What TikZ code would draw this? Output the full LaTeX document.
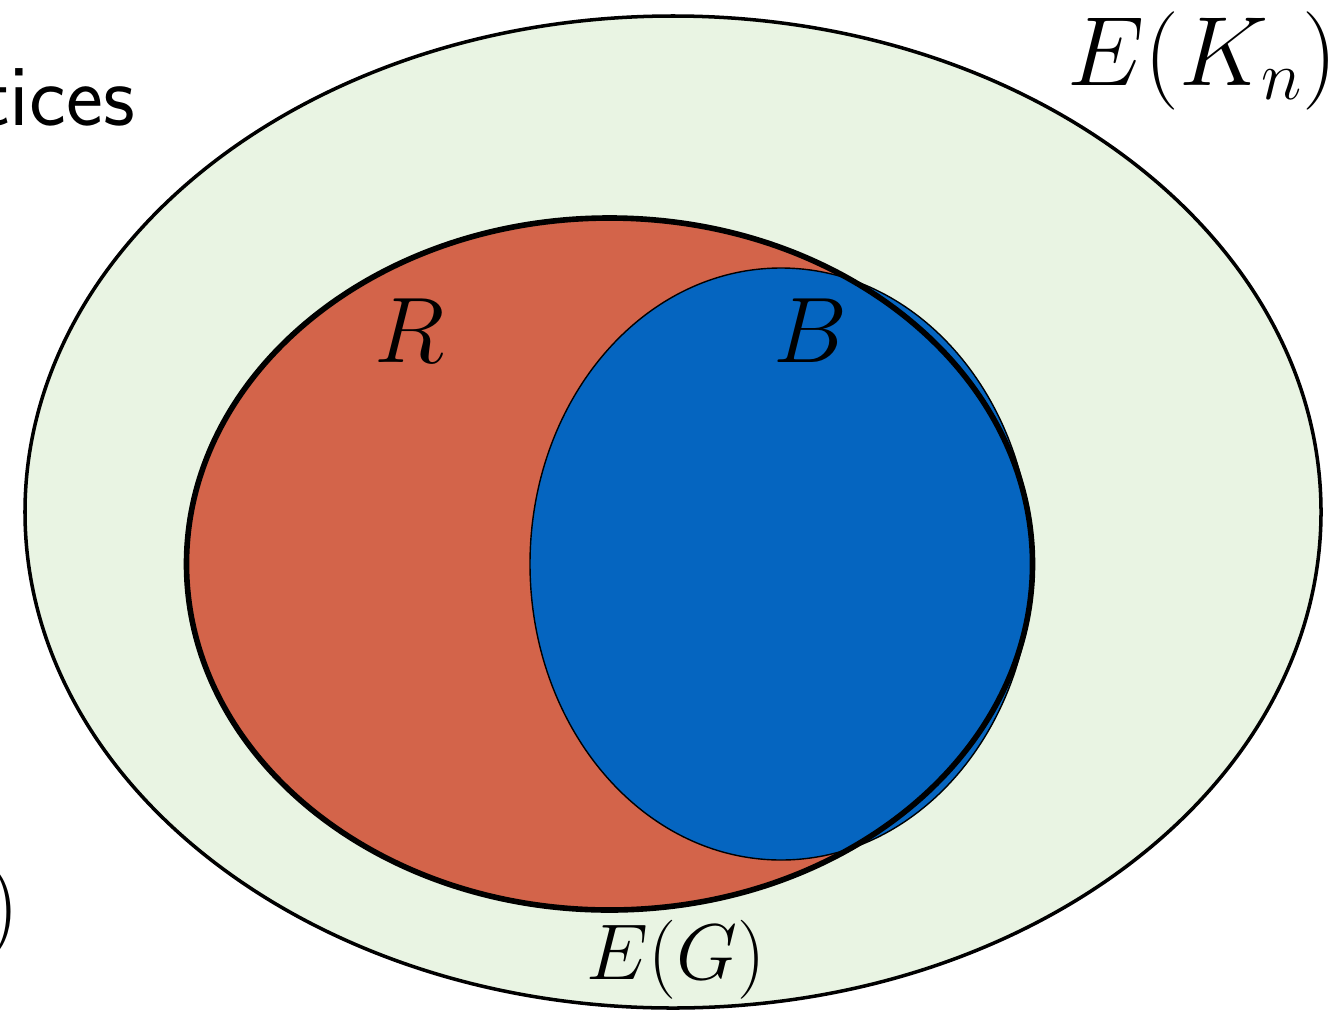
\RequirePackage{fix-cm}
\documentclass[tikz,border=0pt]{standalone}
\usepackage{tikz}
\definecolor{bggreen}{HTML}{E9F4E3}
\definecolor{redset}{HTML}{D3644A}
\definecolor{blueset}{HTML}{0565C0}
\tikzset{
  lbl/.style={inner sep=0pt, font=\fontsize{53}{58}\selectfont},
  lblbig/.style={inner sep=0pt, font=\fontsize{56}{60}\selectfont},
  lblsmall/.style={inner sep=0pt, font=\fontsize{45}{50}\selectfont},
  lbltext/.style={inner sep=0pt, font=\sffamily\fontsize{50}{55}\selectfont},
}
\begin{document}
\begin{tikzpicture}[x=0.02cm,y=-0.02cm]
\useasboundingbox (0,0) rectangle (1341,1011);
% outer set
\draw[fill=bggreen, line width=2pt] (673,512) ellipse [x radius=648, y radius=496];
% red set
\fill[redset] (609.5,564) ellipse [x radius=423, y radius=346];
% blue set
\draw[fill=blueset, line width=0.8pt] (781,564) ellipse [x radius=251, y radius=296];
% red outline on top
\draw[line width=3.2pt] (609.5,564) ellipse [x radius=423, y radius=346];
% labels
\node[lbl, anchor=base] (r) at (410,362) {$R$};
\node[lbl, anchor=base] (b) at (810,362) {$B$};
\node[lblbig, anchor=base east] (ekn) at (1338,85) {$E(K_n)$};
\node[lblsmall, anchor=base] (eg) at (676,979) {$E(G)$};
\node[lbltext, anchor=base east] (tices) at (135,125) {tices};
\node[lbl, anchor=base east] (paren) at (20,935) {$)$};
\end{tikzpicture}
\end{document}
